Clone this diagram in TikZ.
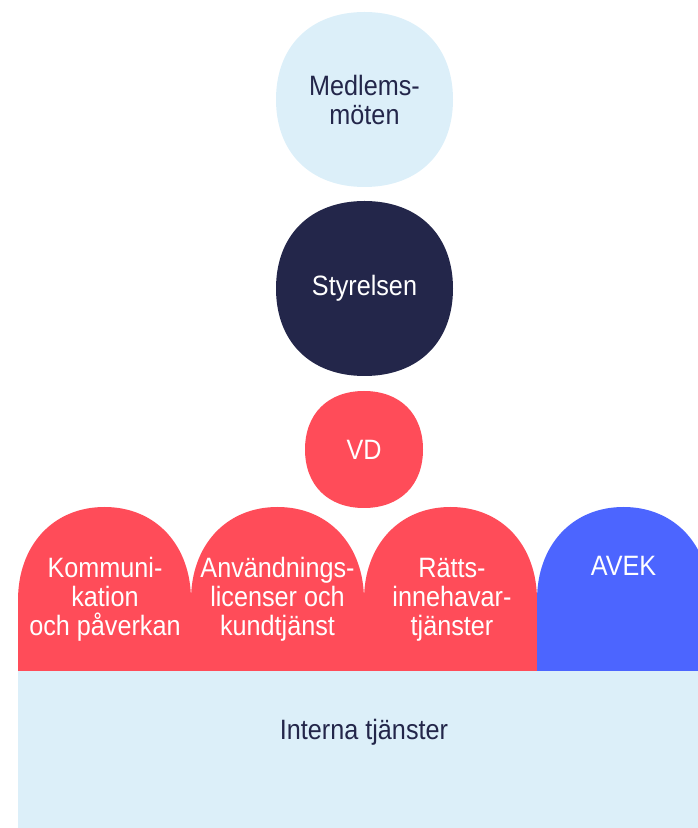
\documentclass[tikz,border=0pt]{standalone}
\usepackage{fontspec}
\setmainfont{Liberation Sans}[FakeStretch=0.9]
\definecolor{lblue}{HTML}{DCEFF9}
\definecolor{navy}{HTML}{23264A}
\definecolor{cred}{HTML}{FF4C59}
\definecolor{cblue}{HTML}{4C65FF}
\newcommand\archtab[2]{%
  \fill[#2] (#1,157) -- (#1,228)
    .. controls (#1,228+54) and (#1+86.5-52,321) .. (#1+86.5,321)
    .. controls (#1+86.5+52,321) and (#1+173,228+54) .. (#1+173,228)
    -- (#1+173,157) -- cycle;}
\newcommand\squircle[5]{%
  \fill[#5] (#1+#3,#2)
    .. controls (#1+#3,#2+0.61*#4) and (#1+0.61*#3,#2+#4) .. (#1,#2+#4)
    .. controls (#1-0.61*#3,#2+#4) and (#1-#3,#2+0.61*#4) .. (#1-#3,#2)
    .. controls (#1-#3,#2-0.61*#4) and (#1-0.61*#3,#2-#4) .. (#1,#2-#4)
    .. controls (#1+0.61*#3,#2-#4) and (#1+#3,#2-0.61*#4) .. (#1+#3,#2) -- cycle;}
\begin{document}
\begin{tikzpicture}[x=1pt,y=1pt,
  lbl/.style={font=\fontsize{28}{29}\selectfont, align=center, inner sep=0pt}]
\useasboundingbox (0,0) rectangle (698,828);
\clip (0,0) rectangle (698,828);
\squircle{364.5}{728.5}{88.5}{87.5}{lblue}
\squircle{364.5}{539.5}{88.5}{87.5}{navy}
\squircle{364}{378.5}{59}{58.5}{cred}
\node[lbl, text=navy, minimum width=177, minimum height=175] (medlem) at (364.5,728.5) {Medlems-\\möten};
\node[lbl, text=white, minimum width=177, minimum height=175] (styrelse) at (364.5,539.5) {Styrelsen};
\node[lbl, text=white, minimum width=118, minimum height=117] (vd) at (364,378.5) {VD};
\fill[lblue] (18,0) rectangle (698,157);
\archtab{18}{cred}
\archtab{191}{cred}
\archtab{364}{cred}
\archtab{537}{cblue}
\node[lbl, text=white, anchor=base] (komm) at (105,192) {Kommuni-\\kation\\och påverkan};
\node[lbl, text=white, anchor=base] (anv) at (277.5,192) {Användnings-\\licenser och\\kundtjänst};
\node[lbl, text=white, anchor=base] (ratt) at (452,192) {Rätts-\\innehavar-\\tjänster};
\node[lbl, text=white, anchor=base] (avek) at (623.5,252) {AVEK};
\node[lbl, text=navy, anchor=base] (interna) at (364,88) {Interna tjänster};
\end{tikzpicture}
\end{document}
